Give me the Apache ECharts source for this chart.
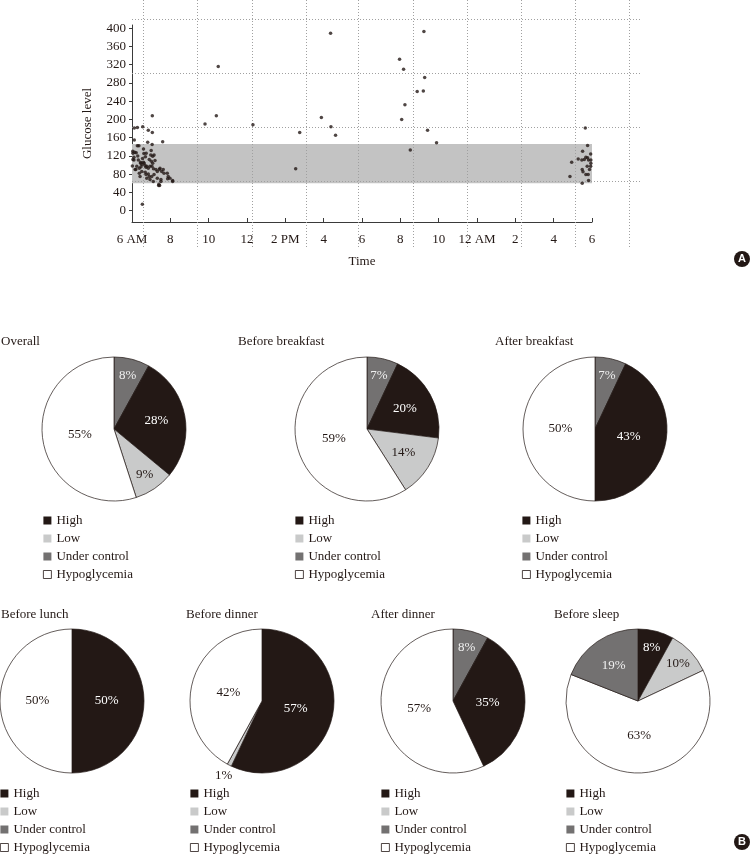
<!DOCTYPE html>
<html>
<head>
<meta charset="utf-8">
<script src="https://cdn.jsdelivr.net/npm/echarts@6/dist/echarts.min.js"></script>
<style>
html,body{margin:0;padding:0;background:#fff;}
#chart{width:751px;height:855px;}
</style>
</head>
<body>
<div id="chart"></div>
<script>
// ---------- DATA ----------
// Panel A: hours after 6 AM, glucose level
const timeLabels = ['6 AM','8','10','12','2 PM','4','6','8','10','12 AM','2','4','6'];
const yTickValues = [0,40,80,120,160,200,240,280,320,360,400];
const bandLow = 60;
const bandHigh = 146;
const timeHours = [
  0.12,0.28,0.56,0.85,1.06,1.06,0.12,1.60,0.28,0.36,0.82,1.05,0.60,0.05,0.22,0.74,1.00,0.54,1.44,1.40,2.12,1.86,
  0.10,0.33,0.45,0.52,0.63,0.68,0.77,0.85,0.94,1.01,1.08,1.08,1.15,0.98,1.25,1.32,1.46,1.55,1.63,1.67,1.84,1.89,
  1.51,1.32,1.15,1.03,0.85,0.69,0.51,0.38,0.25,0.16,0.42,0.77,0.94,1.11,
  0.04,0.14,0.10,0.20,0.38,0.73,0.90,0.70,0.55,0.90,1.98,2.12,1.39,1.51,0.47,0.60,0.45,0.73,1.04,1.12,1.43,0.30,0.62,1.20,0.02,0.05,
  3.81,4.40,4.50,6.31,8.54,8.75,9.88,10.36,10.38,10.62,
  15.23,13.96,14.17,15.27,14.88,15.20,14.24,14.07,15.42,15.89,14.52,
  23.65,23.77,23.51,23.93,23.68,23.77,23.60,23.47,23.28,23.82,23.94,23.94,22.94,23.75,23.93,23.49,23.87,23.53,23.68,23.80,22.85,23.82,23.49
];
const glucose = [
  181,182,184,176,171,208,155,151,142,142,150,145,135,126,127,126,132,14,55,58,64,70,
  117,111,104,101,104,99,97,93,97,108,104,119,122,122,90,86,93,86,90,82,82,75,
  68,71,79,75,80,84,86,93,97,90,75,71,68,64,
  130,128,111,90,82,79,75,118,114,112,71,66,55,64,96,106,106,95,97,92,90,120,125,110,98,112,
  190,208,316,188,92,171,204,389,184,165,
  393,332,310,292,261,262,232,200,176,149,133,
  181,143,130,124,117,116,112,111,113,111,111,104,106,97,97,90,90,85,79,79,75,66,60
];

// Panel B: pie charts (percent)
const sliceNames = ['High','Low','Under control','Hypoglycemia'];
const pieTitles = ['Overall','Before breakfast','After breakfast','Before lunch','Before dinner','After dinner','Before sleep'];
const highPct  = [28,20,43,50,57,35,8];
const lowPct   = [9,14,0,0,1,0,10];
const underPct = [8,7,7,0,0,8,19];
const hypoPct  = [55,59,50,50,42,57,63];

// ---------- STYLE / LAYOUT ----------
const FONT = "'Liberation Serif','DejaVu Serif',serif";
const INK = '#231815';
const sliceColors = {'High':'#231815','Low':'#c9caca','Under control':'#737171','Hypoglycemia':'#ffffff'};
const sliceLabelColors = {'High':'#ffffff','Low':INK,'Under control':'#f0f0f0','Hypoglycemia':INK};
const pieR = 72;
const pieCenters = [[114,429],[367,429],[595,429],[72,701],[262,701],[453,701],[638,701]];
const titlePos = [[1,335],[238,335],[495,335],[1,608],[186,608],[371,608],[554,608]];
const legendPos = [[43,514],[295,514],[522,514],[0,787],[190,787],[381,787],[566,787]];
// clockwise order of slices from 12 o'clock, per pie
const stdOrder = ['Under control','High','Low','Hypoglycemia'];
const sliceOrders = [stdOrder,stdOrder,stdOrder,stdOrder,stdOrder,stdOrder,['High','Low','Hypoglycemia','Under control']];
const valueOf = {'High':highPct,'Low':lowPct,'Under control':underPct,'Hypoglycemia':hypoPct};

const chart = echarts.init(document.getElementById('chart'), null, {renderer:'canvas'});

// label positions (pie label radius rule by slice size)
const labelPos = {};
const pieSeries = pieTitles.map((t, i) => {
  const order = sliceOrders[i];
  const vals = order.map(n => valueOf[n][i]);
  const total = vals.reduce((a,b)=>a+b,0);
  let cum = 0;
  const pos = [];
  vals.forEach(v => {
    const mid = (cum + v/2)/total*2*Math.PI;
    cum += v;
    const k = v < 3 ? 1.17 : (v < 12 ? 0.76 : (v < 30 ? 0.6 : 0.48));
    pos.push([pieCenters[i][0] + Math.sin(mid)*k*pieR, pieCenters[i][1] - Math.cos(mid)*k*pieR]);
  });
  labelPos[i+1] = pos;
  return {
    type:'pie', name:t, center:pieCenters[i], radius:pieR, startAngle:90, clockwise:true,
    silent:true, animation:false, minAngle:0, avoidLabelOverlap:false,
    itemStyle:{borderColor:INK, borderWidth:0.7},
    label:{show:true, position:'inside', fontFamily:FONT, fontSize:13,
      formatter: p => p.value ? p.value + '%' : ''},
    labelLine:{show:false},
    labelLayout: params => {
      const pp = labelPos[params.seriesIndex] && labelPos[params.seriesIndex][params.dataIndex];
      return pp ? {x:pp[0], y:pp[1], align:'center', verticalAlign:'middle'} : {};
    },
    emphasis:{disabled:true},
    data: order.map((n, j) => ({
      name:n, value:vals[j],
      itemStyle:{color:sliceColors[n]},
      label:{color:sliceLabelColors[n]}
    }))
  };
});

const legendText = {fontFamily:FONT, fontSize:13, color:INK, lineHeight:13,
  rich:{s:{fontFamily:FONT, fontSize:13, color:INK, lineHeight:13}}};
const legendData = sliceNames.map(n => n === 'Hypoglycemia'
  ? {name:n, itemStyle:{color:'#ffffff', borderColor:INK, borderWidth:0.8}}
  : {name:n, itemStyle:{color:sliceColors[n], borderWidth:0}});

const legends = legendPos.map(p => ({
  left:p[0], top:p[1], orient:'vertical', icon:'rect', itemWidth:8, itemHeight:8, itemGap:5,
  padding:0, selectedMode:false,
  formatter: name => '{s|' + name + '}',
  textStyle:legendText,
  itemStyle:{borderWidth:0},
  data:legendData
}));

const titles = pieTitles.map((t, i) => ({
  text:t, left:titlePos[i][0], top:titlePos[i][1], padding:0,
  textStyle:{fontFamily:FONT, fontSize:13, fontWeight:'normal', color:INK}
}));

const dotted = {color:'#a0a0a0', width:1, type:[1,2]};
const vLines = [11,65,120,174,226,281,335,389,443,497];
const hLines = [19,73,127,181];

const option = {
  backgroundColor:'#ffffff',
  animation:false,
  textStyle:{fontFamily:FONT},
  title:titles,
  legend:legends,
  grid:[
    {left:132, top:25, width:460, height:197, outerBoundsMode:'none', containLabel:false},
    {left:132, top:0, width:508, height:247, outerBoundsMode:'none', containLabel:false}
  ],
  xAxis:[
    {gridIndex:0, type:'value', min:0, max:24, interval:2,
     axisLine:{show:true, onZero:false, lineStyle:{color:'#3a3a3a', width:1}},
     axisTick:{show:true, inside:true, length:4, lineStyle:{color:'#3a3a3a'}},
     axisLabel:{show:true, margin:11, fontFamily:FONT, fontSize:13, color:INK,
       formatter: v => timeLabels[Math.round(v/2)]},
     splitLine:{show:false},
     name:'Time', nameLocation:'middle', nameGap:33,
     nameTextStyle:{fontFamily:FONT, fontSize:13, color:INK}},
    {gridIndex:1, type:'value', min:0, max:508, z:1.5,
     axisLine:{show:false}, axisLabel:{show:false},
     axisTick:{show:false, customValues:vLines},
     splitLine:{show:true, lineStyle:dotted, customValues:vLines}}
  ],
  yAxis:[
    {gridIndex:0, type:'value', min:-25, max:407,
     axisLine:{show:true, onZero:false, lineStyle:{color:'#3a3a3a', width:1}},
     axisTick:{show:true, length:3, customValues:yTickValues, lineStyle:{color:'#3a3a3a'}},
     axisLabel:{show:true, margin:6, customValues:yTickValues, fontFamily:FONT, fontSize:13, color:INK},
     splitLine:{show:false},
     name:'Glucose level', nameLocation:'middle', nameGap:38, nameRotate:90,
     nameTextStyle:{fontFamily:FONT, fontSize:13, color:INK}},
    {gridIndex:1, type:'value', min:0, max:247, inverse:true, z:1.5,
     axisLine:{show:false}, axisLabel:{show:false},
     axisTick:{show:false, customValues:hLines},
     splitLine:{show:true, lineStyle:dotted, customValues:hLines}}
  ],
  series:[
    {type:'scatter', xAxisIndex:0, yAxisIndex:0, z:2, silent:true,
     symbol:'circle', symbolSize:3.5,
     itemStyle:{color:INK},
     data: timeHours.map((h, i) => [h, glucose[i]]),
     markArea:{silent:true, z:1, itemStyle:{color:'#c3c3c3', borderWidth:0},
       data:[[{xAxis:0, yAxis:bandLow},{xAxis:24, yAxis:bandHigh}]]}
    }
  ].concat(pieSeries),
  graphic:[
    {type:'circle', shape:{cx:742, cy:259, r:8}, style:{fill:INK}, z:10},
    {type:'text', x:742, y:259, z:11, style:{text:'A', fill:'#fff', font:'bold 11px Arial', align:'center', verticalAlign:'middle', textAlign:'center', textVerticalAlign:'middle'}},
    {type:'circle', shape:{cx:742, cy:842, r:8}, style:{fill:INK}, z:10},
    {type:'text', x:742, y:842, z:11, style:{text:'B', fill:'#fff', font:'bold 11px Arial', align:'center', verticalAlign:'middle', textAlign:'center', textVerticalAlign:'middle'}}
  ]
};
chart.setOption(option);
</script>
</body>
</html>
